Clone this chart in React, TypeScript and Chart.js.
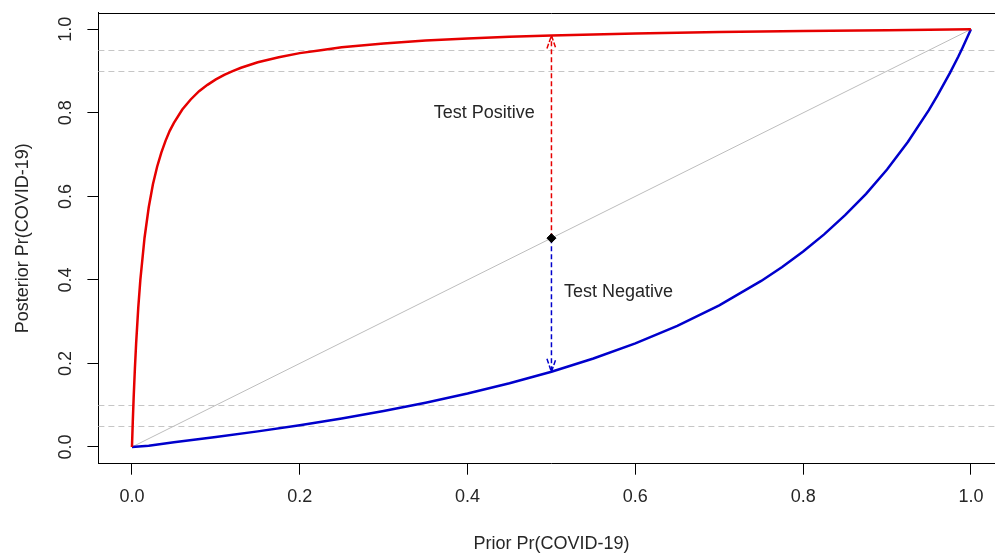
import React, { useEffect, useRef } from "react";
import { Chart, registerables } from "chart.js";

Chart.register(...registerables);

// ---- data ----
const xTickValues = [0, 0.2, 0.4, 0.6, 0.8, 1.0];
const xTickLabels = ["0.0", "0.2", "0.4", "0.6", "0.8", "1.0"];
const yTickValues = [0, 0.2, 0.4, 0.6, 0.8, 1.0];
const yTickLabels = ["0.0", "0.2", "0.4", "0.6", "0.8", "1.0"];

const positivePrior = [0, 0.001, 0.002, 0.0035, 0.005, 0.0075, 0.01, 0.015, 0.02, 0.025, 0.03, 0.035, 0.04, 0.045, 0.05, 0.06, 0.07, 0.08, 0.09, 0.1, 0.11, 0.12, 0.13, 0.15, 0.175, 0.2, 0.225, 0.25, 0.3, 0.35, 0.4, 0.45, 0.5, 0.6, 0.7, 0.8, 0.9, 1.0];
const positivePosterior = [0, 0.062, 0.117, 0.188, 0.249, 0.333, 0.4, 0.501, 0.574, 0.629, 0.671, 0.705, 0.733, 0.757, 0.776, 0.808, 0.832, 0.852, 0.867, 0.88, 0.891, 0.9, 0.908, 0.921, 0.933, 0.943, 0.95, 0.957, 0.966, 0.973, 0.978, 0.982, 0.985, 0.99, 0.9935, 0.996, 0.998, 1.0];

const negativePrior = [0, 0.02, 0.05, 0.1, 0.15, 0.2, 0.25, 0.3, 0.35, 0.4, 0.45, 0.5, 0.55, 0.6, 0.65, 0.7, 0.75, 0.775, 0.8, 0.825, 0.85, 0.875, 0.9, 0.925, 0.95, 0.96, 0.975, 0.985, 0.99, 1.0];
const negativePosterior = [0, 0.003, 0.0114, 0.0239, 0.0374, 0.0521, 0.0683, 0.0862, 0.1059, 0.1279, 0.1525, 0.1803, 0.2119, 0.2481, 0.2901, 0.3392, 0.3976, 0.431, 0.4681, 0.509, 0.5549, 0.606, 0.6644, 0.7307, 0.8069, 0.841, 0.8956, 0.935, 0.956, 1.0];

const diagonalX = [0, 1];
const diagonalY = [0, 1];

const referenceLines = [0.05, 0.1, 0.9, 0.95];

const arrowPrior = 0.5;
const arrowStart = 0.5;
const positiveEnd = 0.985;
const negativeEnd = 0.18;

const annotationLabels = ["Test Positive", "Test Negative"];
const annotationX = [0.42, 0.58];
const annotationY = [0.8, 0.37];

const xTitle = "Prior Pr(COVID-19)";
const yTitle = "Posterior Pr(COVID-19)";

// ---- styling ----
const FONT = '"Liberation Sans", Arial, sans-serif';
const TEXT = "#262626";
const RED = "#e60000";
const BLUE = "#0000cc";

const toPoints = (xs: number[], ys: number[]) => xs.map((v, i) => ({ x: v, y: ys[i] }));

function drawArrow(ctx: CanvasRenderingContext2D, px: number, y0: number, y1: number, color: string) {
  ctx.save();
  ctx.strokeStyle = color;
  ctx.lineWidth = 1.5;
  ctx.setLineDash([5, 3]);
  ctx.beginPath();
  ctx.moveTo(px, y0);
  ctx.lineTo(px, y1);
  ctx.stroke();
  const dir = Math.sign(y1 - y0);
  const len = 13;
  const half = 4.5;
  ctx.setLineDash([5, 2]);
  ctx.beginPath();
  ctx.moveTo(px - half, y1 - dir * len);
  ctx.lineTo(px, y1);
  ctx.lineTo(px + half, y1 - dir * len);
  ctx.stroke();
  ctx.restore();
}

const decorPlugin = {
  id: "rDecor",
  beforeDatasetsDraw(chart: any) {
    const { ctx, chartArea, scales } = chart;
    const { left, right } = chartArea;
    const xs = scales.x;
    const ys = scales.y;
    ctx.save();
    ctx.strokeStyle = "#c6c6c6";
    ctx.lineWidth = 1;
    ctx.setLineDash([6, 4]);
    for (const v of referenceLines) {
      const py = Math.round(ys.getPixelForValue(v)) + 0.5;
      ctx.beginPath();
      ctx.moveTo(left, py);
      ctx.lineTo(right, py);
      ctx.stroke();
    }
    ctx.restore();
    const px = xs.getPixelForValue(arrowPrior);
    drawArrow(ctx, px, ys.getPixelForValue(arrowStart), ys.getPixelForValue(positiveEnd), RED);
    drawArrow(ctx, px, ys.getPixelForValue(arrowStart), ys.getPixelForValue(negativeEnd), BLUE);
  },
  afterDatasetsDraw(chart: any) {
    const { ctx, chartArea, scales } = chart;
    ctx.save();
    ctx.font = `18px ${FONT}`;
    ctx.fillStyle = TEXT;
    ctx.textAlign = "center";
    ctx.textBaseline = "middle";
    annotationLabels.forEach((t, i) => {
      ctx.fillText(t, scales.x.getPixelForValue(annotationX[i]), scales.y.getPixelForValue(annotationY[i]));
    });
    // top of the box
    ctx.strokeStyle = "#000";
    ctx.lineWidth = 1;
    const ty = Math.round(chartArea.top) + 0.5;
    ctx.beginPath();
    ctx.moveTo(chartArea.left, ty);
    ctx.lineTo(chartArea.right, ty);
    ctx.stroke();
    ctx.restore();
  },
};

export default function App() {
  const canvasRef = useRef<HTMLCanvasElement | null>(null);

  useEffect(() => {
    if (!canvasRef.current) return;
    const chart = new Chart(canvasRef.current, {
      type: "line",
      data: {
        datasets: [
          {
            type: "scatter",
            label: "prior",
            data: [{ x: arrowPrior, y: arrowStart }],
            pointStyle: "rectRot",
            pointRadius: 4.5,
            backgroundColor: "#000",
            borderColor: "#000",
            showLine: false,
          } as any,
          {
            label: "Test Positive",
            data: toPoints(positivePrior, positivePosterior),
            borderColor: RED,
            borderWidth: 2.5,
            pointRadius: 0,
            tension: 0,
            fill: false,
          },
          {
            label: "Test Negative",
            data: toPoints(negativePrior, negativePosterior),
            borderColor: BLUE,
            borderWidth: 2.5,
            pointRadius: 0,
            tension: 0,
            fill: false,
          },
          {
            label: "Identity",
            data: toPoints(diagonalX, diagonalY),
            borderColor: "#bdbdbd",
            borderWidth: 1,
            pointRadius: 0,
            fill: false,
          },
        ],
      },
      options: {
        animation: false,
        responsive: true,
        maintainAspectRatio: false,
        devicePixelRatio: 1,
        layout: { padding: { top: 12.6, right: 2.2, left: 0, bottom: 0 } },
        plugins: {
          legend: { display: false },
          tooltip: { enabled: false },
          title: { display: false },
        },
        scales: {
          x: {
            type: "linear",
            min: -0.04,
            max: 1.04,
            afterBuildTicks: (s: any) => {
              s.ticks = xTickValues.map((v) => ({ value: v }));
            },
            afterFit: (s: any) => {
              s.height = 91.3;
              s.paddingLeft = 0;
              s.paddingRight = 0;
            },
            ticks: {
              autoSkip: false,
              maxRotation: 0,
              minRotation: 0,
              padding: 12,
              color: TEXT,
              font: { family: FONT, size: 18 },
              callback: (_v: any, i: number) => xTickLabels[i],
            },
            grid: { drawOnChartArea: false, drawTicks: true, tickLength: 11, color: "#000", lineWidth: 1 },
            border: { display: true, color: "#000", width: 1 },
            title: {
              display: true,
              text: xTitle,
              color: TEXT,
              font: { family: FONT, size: 18 },
              padding: { top: 0, bottom: 0 },
            },
          },
          y: {
            type: "linear",
            min: -0.04,
            max: 1.04,
            afterBuildTicks: (s: any) => {
              s.ticks = yTickValues.map((v) => ({ value: v }));
            },
            afterFit: (s: any) => {
              s.width = 98.4;
              s.paddingTop = 0;
              s.paddingBottom = 0;
            },
            ticks: {
              autoSkip: false,
              minRotation: 90,
              maxRotation: 90,
              crossAlign: "center",
              padding: 9,
              color: TEXT,
              font: { family: FONT, size: 18 },
              callback: (_v: any, i: number) => yTickLabels[i],
            },
            grid: { drawOnChartArea: false, drawTicks: true, tickLength: 11, color: "#000", lineWidth: 1 },
            border: { display: true, color: "#000", width: 1 },
            title: {
              display: true,
              text: yTitle,
              color: TEXT,
              font: { family: FONT, size: 18 },
              padding: { top: 12, bottom: 0 },
            },
          },
        },
      },
      plugins: [decorPlugin],
    });
    return () => chart.destroy();
  }, []);

  return (
    <div style={{ position: "fixed", left: 0, top: 0, width: 995, height: 555, overflow: "hidden", background: "#fff" }}>
      <div style={{ position: "relative", width: 1010, height: 555 }}>
        <canvas ref={canvasRef} />
      </div>
    </div>
  );
}
